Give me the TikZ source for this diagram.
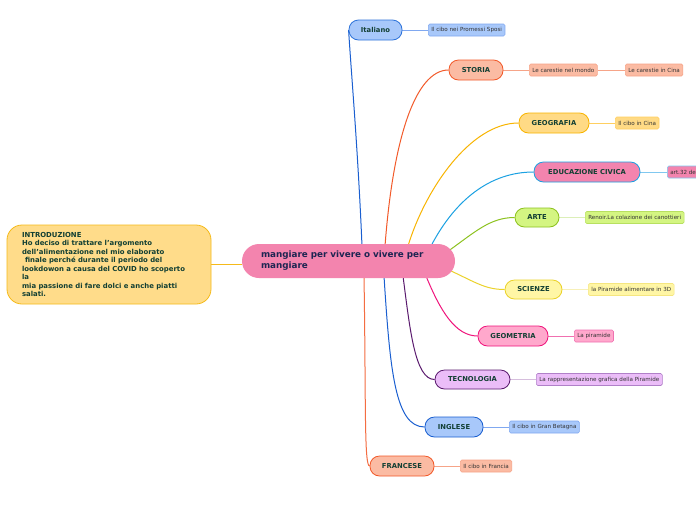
\documentclass[tikz,border=0pt]{standalone}
\usepackage{fontspec}
\setmainfont{DejaVu Sans}
\definecolor{txtgreen}{HTML}{123F33}
\definecolor{txtgray}{HTML}{333333}
\definecolor{txtnavy}{HTML}{1E2552}
\definecolor{cpink}{HTML}{F384AE}
\definecolor{introfill}{HTML}{FFDC8A}
\definecolor{introdraw}{HTML}{F5BA1A}
\definecolor{bluefill}{HTML}{A8C8FA}
\definecolor{bluedraw}{HTML}{2F74DA}
\definecolor{blueline}{HTML}{1A5FD0}
\definecolor{blueleafdraw}{HTML}{80A8F0}
\definecolor{orfill}{HTML}{FBBBA3}
\definecolor{ordraw}{HTML}{F25A2A}
\definecolor{orleafdraw}{HTML}{F6A488}
\definecolor{yefill}{HTML}{FFDA85}
\definecolor{yedraw}{HTML}{F8B400}
\definecolor{yeleafdraw}{HTML}{FFCF60}
\definecolor{cydraw}{HTML}{1BA1E2}
\definecolor{cyleafdraw}{HTML}{80C8F0}
\definecolor{grfill}{HTML}{D4F582}
\definecolor{grdraw}{HTML}{8DC21F}
\definecolor{grleafdraw}{HTML}{B8E060}
\definecolor{grline}{HTML}{DCEFB8}
\definecolor{lyfill}{HTML}{FFF6A5}
\definecolor{lydraw}{HTML}{EBD22A}
\definecolor{lyleafdraw}{HTML}{F5E680}
\definecolor{lyline}{HTML}{F7F0B8}
\definecolor{pkfill}{HTML}{FFA8CC}
\definecolor{pkdraw}{HTML}{F0147C}
\definecolor{pkleafdraw}{HTML}{F070B0}
\definecolor{pufill}{HTML}{EBBDF8}
\definecolor{pudraw}{HTML}{5A1A6E}
\definecolor{puleafdraw}{HTML}{B080C8}
\definecolor{puline}{HTML}{D6BEDD}
\pgfdeclarelayer{bg}
\pgfdeclarelayer{lines}
\pgfsetlayers{bg,lines,main}
\tikzset{
  branch/.style={rounded corners=9.5pt, minimum height=20pt, inner sep=0pt,
    font=\bfseries\fontsize{6.8}{7}\selectfont, text=txtgreen, line width=0.8pt},
  leaf/.style={rounded corners=1.5pt, minimum height=12pt, inner xsep=3pt, inner ysep=0pt,
    font=\fontsize{5.6}{6}\selectfont, text=txtgray, line width=0.6pt, anchor=west},
  curve/.style={line width=1pt},
  leafline/.style={line width=0.8pt}
}
\begin{document}
\begin{tikzpicture}[x=1pt,y=-1pt]
\useasboundingbox (0,0) rectangle (696,520);
\begin{pgfonlayer}{bg}
\fill[white] (0,0) rectangle (696,520);
\end{pgfonlayer}

% central and intro
\node[fill=cpink, rounded corners=17pt, minimum width=213pt, minimum height=34pt,
  inner xsep=19pt, text width=175pt, align=left, text=txtnavy,
  font=\bfseries\fontsize{8.8}{11}\selectfont] (c) at (348.5,261)
  {mangiare per vivere o vivere per\\mangiare};

\node[fill=introfill, draw=introdraw, line width=0.8pt, rounded corners=15pt,
  minimum width=204pt, minimum height=79pt, inner xsep=15pt, text width=174pt,
  align=left, text=txtgreen, font=\bfseries\fontsize{6.9}{8.45}\selectfont] (intro) at (109,264.5)
  {INTRODUZIONE\\Ho deciso di trattare l'argomento\\dell'alimentazione nel mio elaborato\\\hspace*{3pt}finale perché durante il periodo del\\lookdowon a causa del COVID ho scoperto\\la\\mia passione di fare dolci e anche piatti\\salati.};

% branch nodes
\node[branch, fill=bluefill, draw=bluedraw, minimum width=53pt] (ita) at (375.5,30) {Italiano};
\node[branch, fill=orfill, draw=ordraw, minimum width=54pt] (sto) at (476,70) {STORIA};
\node[branch, fill=yefill, draw=yedraw, minimum width=70pt] (geo) at (554,123) {GEOGRAFIA};
\node[branch, fill=cpink, draw=cydraw, minimum width=106pt] (edu) at (587,172) {EDUCAZIONE CIVICA};
\node[branch, fill=grfill, draw=grdraw, minimum width=44pt, minimum height=19pt] (art) at (537,217.5) {ARTE};
\node[branch, fill=lyfill, draw=lydraw, minimum width=57pt, minimum height=19pt] (sci) at (533.5,289.5) {SCIENZE};
\node[branch, fill=pkfill, draw=pkdraw, minimum width=70pt] (gem) at (513,336) {GEOMETRIA};
\node[branch, fill=pufill, draw=pudraw, minimum width=75pt, minimum height=19pt] (tec) at (472.5,379.5) {TECNOLOGIA};
\node[branch, fill=bluefill, draw=blueline, minimum width=58pt] (ing) at (454,427) {INGLESE};
\node[branch, fill=orfill, draw=ordraw, minimum width=64pt] (fra) at (402,466) {FRANCESE};

% leaves
\node[leaf, fill=bluefill, draw=blueleafdraw] (l1) at (428,30) {Il cibo nei Promessi Sposi};
\node[leaf, fill=orfill, draw=orleafdraw] (l2) at (529,70) {Le carestie nel mondo};
\node[leaf, fill=orfill, draw=orleafdraw] (l2b) at (625,70) {Le carestie in Cina};
\node[leaf, fill=yefill, draw=yeleafdraw] (l3) at (615,123) {Il cibo in Cina};
\node[leaf, fill=cpink, draw=cyleafdraw] (l4) at (667,172) {art.32 della Costituzione};
\node[leaf, fill=grfill, draw=grleafdraw] (l5) at (585,217.5) {Renoir.La colazione dei canottieri};
\node[leaf, fill=lyfill, draw=lyleafdraw] (l6) at (588,289.5) {la Piramide alimentare in 3D};
\node[leaf, fill=pkfill, draw=pkleafdraw] (l7) at (574,336) {La piramide};
\node[leaf, fill=pufill, draw=puleafdraw] (l8) at (536,379.5) {La rappresentazione grafica della Piramide};
\node[leaf, fill=bluefill, draw=blueleafdraw] (l9) at (509,427) {Il cibo in Gran Betagna};
\node[leaf, fill=orfill, draw=orleafdraw] (l10) at (460,466) {Il cibo in Francia};

% start points on central node
\coordinate (s1) at (362,246);
\coordinate (s2) at (385,246);
\coordinate (s3) at (408,246);
\coordinate (s4) at (431,246);
\coordinate (s5) at (447,252);
\coordinate (s6) at (449,270);
\coordinate (s7) at (426,276);
\coordinate (s8) at (403,276);
\coordinate (s9) at (384,276);
\coordinate (s10) at (364,276);

\begin{pgfonlayer}{lines}
\draw[curve, draw=blueline] (s1) .. controls (358,150) and (351,70) .. (ita.west);
\draw[curve, draw=ordraw] (s2) .. controls (393,140) and (415,70) .. (sto.west);
\draw[curve, draw=yedraw] (s3) .. controls (425,190) and (470,123) .. (geo.west);
\draw[curve, draw=cydraw] (s4) .. controls (455,200) and (490,172) .. (edu.west);
\draw[curve, draw=grdraw] (s5) .. controls (475,232) and (490,217.5) .. (art.west);
\draw[curve, draw=lydraw] (s6) .. controls (475,282) and (485,289.5) .. (sci.west);
\draw[curve, draw=pkdraw] (s7) .. controls (440,310) and (455,336) .. (gem.west);
\draw[curve, draw=pudraw] (s8) .. controls (410,330) and (415,379.5) .. (tec.west);
\draw[curve, draw=blueline] (s9) .. controls (390,370) and (395,427) .. (ing.west);
\draw[curve, draw=ordraw!80!orfill] (s10) .. controls (366,400) and (364,466) .. (fra.west);
\draw[curve, draw=introdraw] (intro.east) -- (c.west |- intro.east);

\draw[leafline, draw=blueleafdraw] (ita.east) -- (l1.west);
\draw[leafline, draw=orleafdraw] (sto.east) -- (l2.west);
\draw[leafline, draw=orleafdraw] (l2.east) -- (l2b.west);
\draw[leafline, draw=yeleafdraw] (geo.east) -- (l3.west);
\draw[leafline, draw=cyleafdraw] (edu.east) -- (l4.west);
\draw[leafline, draw=grline] (art.east) -- (l5.west);
\draw[leafline, draw=lyline] (sci.east) -- (l6.west);
\draw[leafline, draw=pkleafdraw] (gem.east) -- (l7.west);
\draw[leafline, draw=puline] (tec.east) -- (l8.west);
\draw[leafline, draw=blueleafdraw] (ing.east) -- (l9.west);
\draw[leafline, draw=orleafdraw] (fra.east) -- (l10.west);
\end{pgfonlayer}
\end{tikzpicture}
\end{document}
